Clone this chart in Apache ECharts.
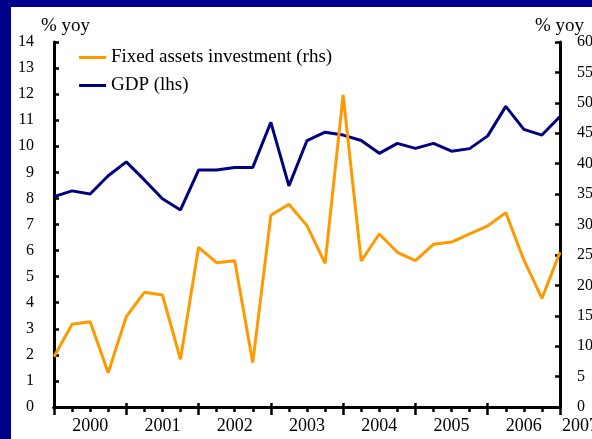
<!DOCTYPE html>
<html>
<head>
<meta charset="utf-8">
<script src="https://cdn.jsdelivr.net/npm/echarts@6/dist/echarts.min.js"></script>
<style>
  html, body { margin: 0; padding: 0; background: #00008C; width: 592px; height: 439px; overflow: hidden; }
  #c { position: absolute; left: 11px; top: 7px; width: 581px; height: 432px; background: #ffffff; }
</style>
</head>
<body>
<div id="c"></div>
<script>
// Quarterly categories (1999Q4 .. 2006Q4)
const quarters = ['99Q4',
  '00Q1','00Q2','00Q3','00Q4',
  '01Q1','01Q2','01Q3','01Q4',
  '02Q1','02Q2','02Q3','02Q4',
  '03Q1','03Q2','03Q3','03Q4',
  '04Q1','04Q2','04Q3','04Q4',
  '05Q1','05Q2','05Q3','05Q4',
  '06Q1','06Q2','06Q3','06Q4'];
// Year tick labels placed at category index
const yearLabels = {2: '2000', 6: '2001', 10: '2002', 14: '2003', 18: '2004', 22: '2005', 26: '2006', 28: '2007'};
// GDP % yoy (lhs)
const gdp = [8.07, 8.29, 8.17, 8.87, 9.40, 8.71, 7.99, 7.56, 9.09, 9.09, 9.19, 9.19, 10.92, 8.48,
  10.22, 10.54, 10.43, 10.22, 9.73, 10.11, 9.92, 10.11, 9.81, 9.91, 10.40, 11.53, 10.65, 10.43, 11.14];
// Fixed assets investment % yoy (rhs)
const fai = [8.27, 13.59, 14.03, 5.64, 14.85, 18.85, 18.41, 7.84, 26.25, 23.73, 24.05, 7.29, 31.51, 33.32,
  29.81, 23.62, 51.29, 24.0, 28.44, 25.43, 24.05, 26.74, 27.12, 28.44, 29.76, 31.95, 24.17, 17.86, 25.43];

const FONT = 'Liberation Serif';
const chart = echarts.init(document.getElementById('c'));
const axisLine = { show: true, lineStyle: { color: '#000', width: 3 } };
const baseX = {
  type: 'category', data: quarters, boundaryGap: false, position: 'bottom',
  axisLine: axisLine, splitLine: { show: false }
};
chart.setOption({
  animation: false,
  backgroundColor: '#ffffff',
  grid: { left: 43, right: 32, top: 35, bottom: 32, containLabel: false, outerBoundsMode: 'none' },
  legend: {
    orient: 'vertical', left: 63, top: 36, itemGap: 9,
    itemWidth: 27, itemHeight: 3, icon: 'rect',
    textStyle: { fontFamily: FONT, fontSize: 19, color: '#000' },
    data: ['Fixed assets investment (rhs)', 'GDP (lhs)']
  },
  graphic: [
    { type: 'text', left: 30, top: 10, style: { text: '% yoy', font: '19px "Liberation Serif"', fill: '#000' } },
    { type: 'text', left: 524, top: 10, style: { text: '% yoy', font: '19px "Liberation Serif"', fill: '#000' } }
  ],
  xAxis: [
    Object.assign({}, baseX, {
      axisTick: { show: true, interval: 0, length: 5, lineStyle: { color: '#000', width: 2.5 } },
      axisLabel: { show: false }
    }),
    Object.assign({}, baseX, {
      axisTick: { show: true, interval: 3, length: 8, lineStyle: { color: '#000', width: 2.5 } },
      axisLabel: {
        show: true, margin: 10, interval: 0,
        fontFamily: FONT, fontSize: 18, color: '#000',
        formatter: function (v, i) {
          const t = yearLabels[i];
          if (!t) return '';
          return i === 28 ? '{r|' + t + '}' : t;
        },
        rich: { r: { fontFamily: FONT, fontSize: 18, color: '#000', padding: [0, 0, 0, 40] } }
      }
    }),
    Object.assign({}, baseX, {
      axisTick: { show: true, inside: true, interval: 3, length: 4, lineStyle: { color: '#000', width: 2.5 } },
      axisLabel: { show: false }
    })
  ],
  yAxis: [
    {
      type: 'value', min: 0, max: 14, interval: 1, position: 'left',
      axisLine: axisLine, splitLine: { show: false },
      axisTick: { show: true, inside: true, length: 5, lineStyle: { color: '#000', width: 2.5 } },
      axisLabel: { margin: 20, fontFamily: FONT, fontSize: 16, color: '#000' }
    },
    {
      type: 'value', min: 0, max: 60, interval: 5, position: 'right',
      axisLine: axisLine, splitLine: { show: false },
      axisTick: { show: true, inside: true, length: 5, lineStyle: { color: '#000', width: 2.5 } },
      axisLabel: { margin: 17, fontFamily: FONT, fontSize: 16, color: '#000' }
    }
  ],
  series: [
    {
      name: 'GDP (lhs)', type: 'line', data: gdp, xAxisIndex: 0, yAxisIndex: 0,
      symbol: 'none', lineStyle: { color: '#000080', width: 3 }, itemStyle: { color: '#000080' }
    },
    {
      name: 'Fixed assets investment (rhs)', type: 'line', data: fai, xAxisIndex: 0, yAxisIndex: 1,
      symbol: 'none', lineStyle: { color: '#FF9900', width: 3 }, itemStyle: { color: '#FF9900' }
    }
  ]
});
</script>
</body>
</html>
